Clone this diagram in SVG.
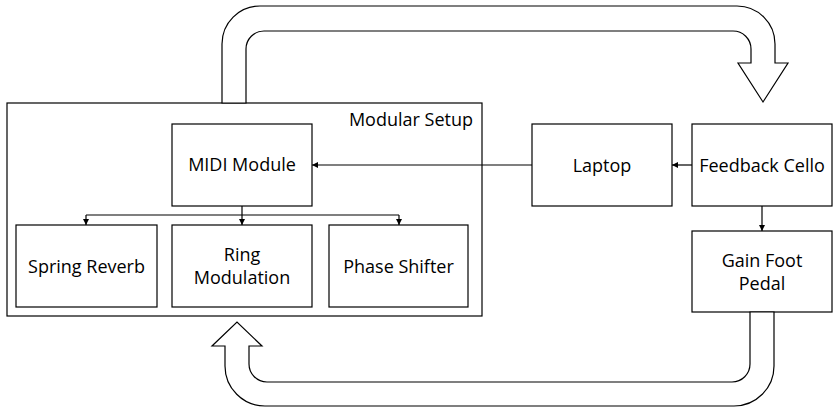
<svg xmlns="http://www.w3.org/2000/svg" width="840" height="414" viewBox="0 0 840 414">
<defs>
<style>
.box{fill:#fff;stroke:#000;stroke-width:1.2}
.big{fill:#fff;stroke:#000;stroke-width:1.2;stroke-linejoin:miter}
.t{font-family:"Open Sans","Liberation Sans",Arial,sans-serif;font-size:18px;fill:#000;text-anchor:middle}
.c{fill:none;stroke:#000;stroke-width:1.2}
</style>
<marker id="ah" viewBox="0 0 10 10" refX="10" refY="5" markerWidth="6" markerHeight="6" markerUnits="userSpaceOnUse" orient="auto">
<path d="M0,0 L10,5 L0,10 Z" fill="#000"/>
</marker>
</defs>
<rect width="840" height="414" fill="#fff"/>
<g id="modular-setup">
<rect class="box" x="7" y="103" width="475" height="213"/>
<text class="t" x="473" y="126" style="text-anchor:end">Modular Setup</text>
</g>
<g id="midi-module">
<rect class="box" x="172" y="124" width="140" height="82"/>
<text class="t" x="242" y="171">MIDI Module</text>
</g>
<g id="spring-reverb">
<rect class="box" x="16" y="225" width="141" height="82"/>
<text class="t" x="86.5" y="273">Spring Reverb</text>
</g>
<g id="ring-modulation">
<rect class="box" x="172" y="225" width="140" height="82"/>
<text class="t" x="242" y="261">Ring</text>
<text class="t" x="242" y="284">Modulation</text>
</g>
<g id="phase-shifter">
<rect class="box" x="329" y="225" width="139" height="82"/>
<text class="t" x="398.5" y="273">Phase Shifter</text>
</g>
<g id="laptop">
<rect class="box" x="532" y="124" width="140" height="82"/>
<text class="t" x="602" y="172">Laptop</text>
</g>
<g id="feedback-cello">
<rect class="box" x="692" y="124" width="140" height="82"/>
<text class="t" x="762" y="172">Feedback Cello</text>
</g>
<g id="gain-foot-pedal">
<rect class="box" x="692" y="231" width="140" height="81"/>
<text class="t" x="762" y="267">Gain Foot</text>
<text class="t" x="762" y="290">Pedal</text>
</g>
<g id="connectors">
<line class="c" x1="532" y1="165" x2="312" y2="165" marker-end="url(#ah)"/>
<line class="c" x1="692" y1="165" x2="672" y2="165" marker-end="url(#ah)"/>
<line class="c" x1="762" y1="206" x2="762" y2="231" marker-end="url(#ah)"/>
<line class="c" x1="242" y1="206" x2="242" y2="215"/>
<line class="c" x1="86" y1="215" x2="399" y2="215"/>
<line class="c" x1="86" y1="215" x2="86" y2="225" marker-end="url(#ah)"/>
<line class="c" x1="242" y1="215" x2="242" y2="225" marker-end="url(#ah)"/>
<line class="c" x1="399" y1="215" x2="399" y2="225" marker-end="url(#ah)"/>
<path id="loop-top" class="big" d="M222 103 L222 44 A38 38 0 0 1 260 6 L737 6 A38 38 0 0 1 775 44 L775 63 L788 63 L763 102 L738 63 L751 63 L751 49 A18 18 0 0 0 733 31 L264 31 A18 18 0 0 0 246 49 L246 103 Z"/>
<path id="loop-bottom" class="big" d="M750 312 L750 364 A18 18 0 0 1 732 382 L267 382 A18 18 0 0 1 249 364 L249 346 L262 346 L237 322 L212 346 L225 346 L225 366 A40 40 0 0 0 265 406 L734 406 A40 40 0 0 0 774 366 L774 312 Z"/>
</g>
</svg>
